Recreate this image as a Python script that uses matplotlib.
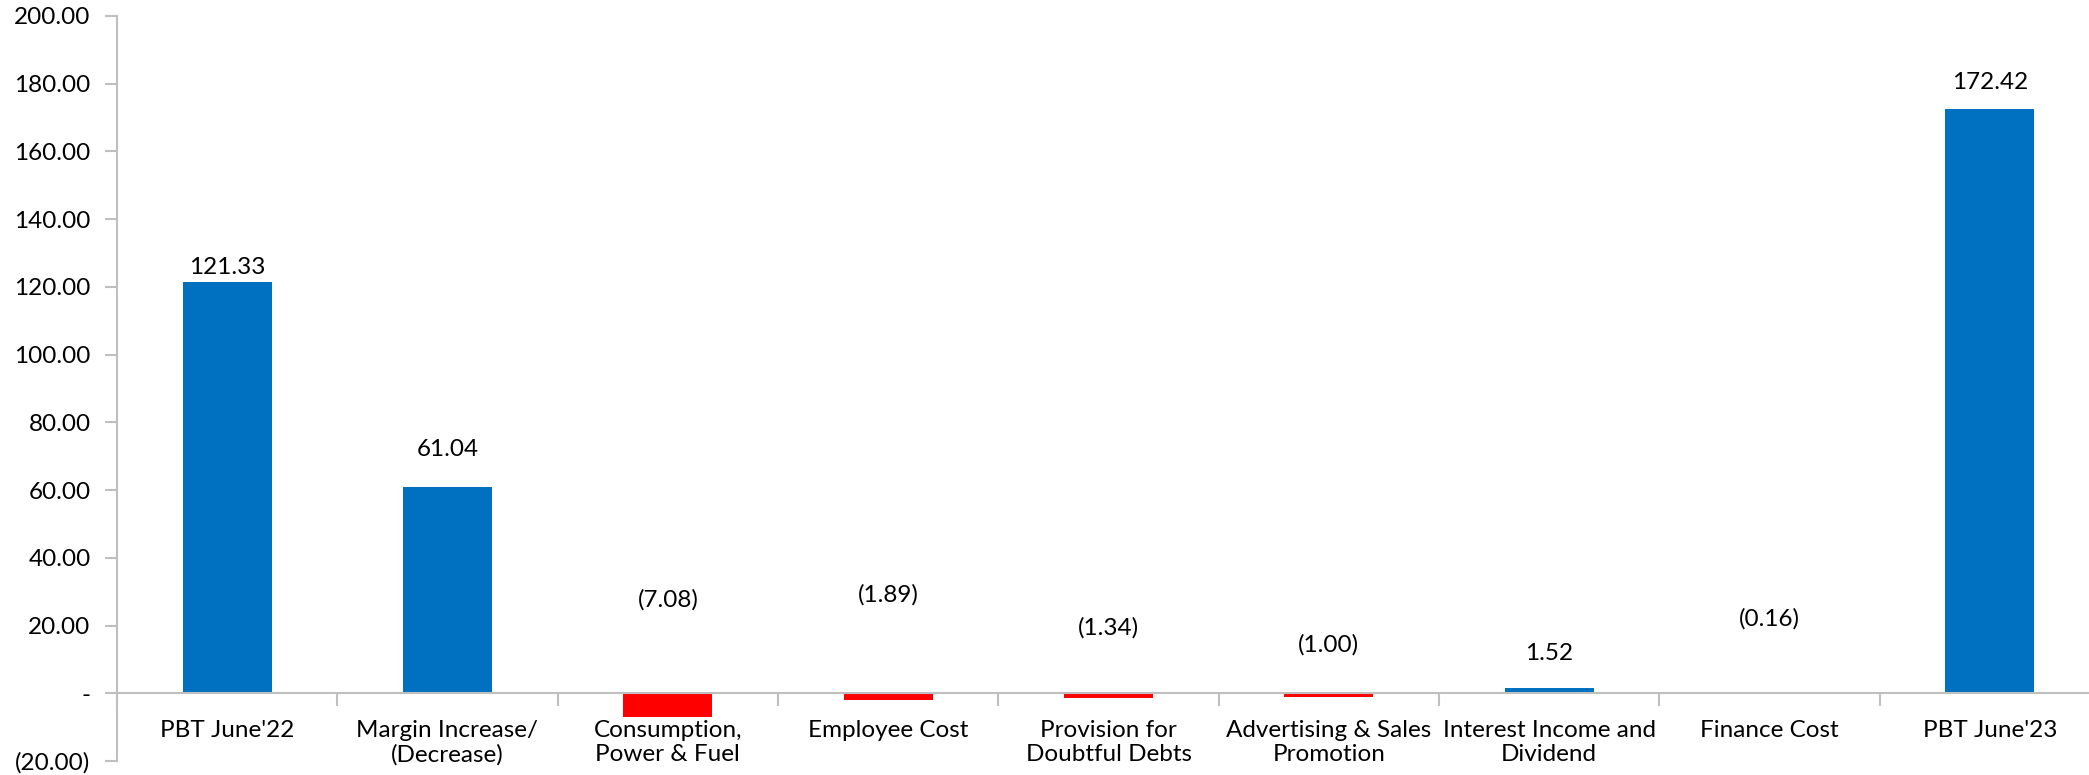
import matplotlib
matplotlib.use("Agg")
from matplotlib import pyplot as plt
from matplotlib.ticker import FuncFormatter, FixedLocator

categories = ["PBT June'22", "Margin Increase/\n(Decrease)", "Consumption,\nPower & Fuel",
              "Employee Cost", "Provision for\nDoubtful Debts", "Advertising & Sales\nPromotion",
              "Interest Income and\nDividend", "Finance Cost", "PBT June'23"]
values = [121.33, 61.04, -7.08, -1.89, -1.34, -1.00, 1.52, -0.16, 172.42]
# where the data labels sit (as in the source slide, not at bar ends)
label_y = [125.6, 72.0, 27.6, 29.1, 19.3, 14.2, 11.8, 22.0, 180.3]

BLUE = '#0070C0'
RED = '#FF0000'
GREY = '#BFBFBF'
FS = 17.5

plt.rcParams['font.family'] = ['Lato', 'DejaVu Sans']
plt.rcParams['font.size'] = FS

def fmt(v):
    if abs(v) < 1e-9:
        return '-'
    if v < 0:
        return '({:,.2f})'.format(-v)
    return '{:,.2f}'.format(v)

fig = plt.figure(figsize=(20.89, 7.75), dpi=100)
ax = fig.add_axes([117 / 2089, 1 - 761 / 775, (2100 - 117) / 2089, (761 - 16) / 775])

x = list(range(len(values)))
colors = [BLUE if v >= 0 else RED for v in values]
ax.bar(x, values, width=0.405, color=colors, zorder=2)

for xi, v, ly in zip(x, values, label_y):
    ax.text(xi, ly, fmt(v), ha='center', va='center', fontsize=FS, color='black')

ax.set_xlim(-0.5, len(values) - 0.5)
ax.set_ylim(-20, 200)
ax.yaxis.set_major_locator(FixedLocator(range(-20, 201, 20)))
ax.yaxis.set_major_formatter(FuncFormatter(lambda v, p: fmt(v)))

ax.set_xticks(x)
ax.set_xticklabels(categories, fontsize=FS, linespacing=1.5)
ax.set_xticks([i - 0.5 for i in range(len(values) + 1)], minor=True)
ax.tick_params(axis='x', which='major', length=0, pad=19)
ax.tick_params(axis='x', which='minor', length=9, color=GREY, width=1.5, direction='out')
ax.tick_params(axis='y', length=9, color=GREY, width=1.5, pad=10, labelsize=FS)

for s in ['top', 'right']:
    ax.spines[s].set_visible(False)
ax.spines['bottom'].set_position(('data', 0))
ax.spines['bottom'].set_color(GREY)
ax.spines['bottom'].set_linewidth(1.5)
ax.spines['left'].set_color(GREY)
ax.spines['left'].set_linewidth(1.5)

fig.savefig('out.png', dpi=100)
